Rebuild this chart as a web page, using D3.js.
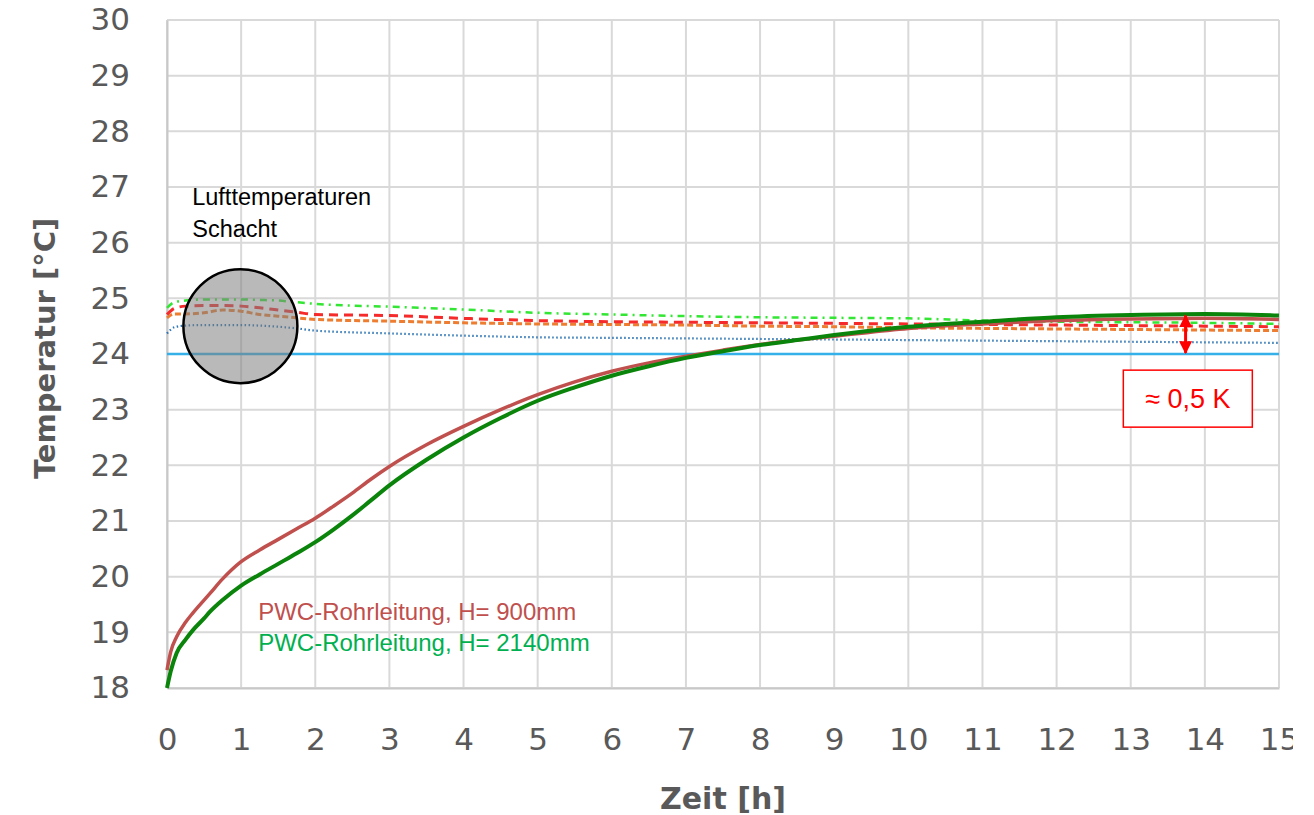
<!DOCTYPE html>
<html>
<head>
<meta charset="utf-8">
<script src="https://cdn.jsdelivr.net/npm/d3@7"></script>
<style>
  body { margin: 0; background: #fff; }
  svg { display: block; }
</style>
</head>
<body>
<div id="chart"></div>
<script>
// Zeitachse der Rohrleitungsmessung [h]
const timePipe = [0, 0.05, 0.13, 0.25, 0.35, 0.5, 0.58, 0.75, 1, 1.25, 1.5, 1.75, 2, 2.25, 2.5, 2.75, 3, 3.5, 4, 4.5, 5, 5.5, 6, 6.5, 7, 7.5, 8, 8.5, 9, 10, 11, 12, 13, 14, 15];
const pwc900 = [18.32, 18.65, 18.92, 19.18, 19.35, 19.58, 19.7, 19.96, 20.27, 20.48, 20.67, 20.86, 21.05, 21.27, 21.5, 21.75, 21.98, 22.37, 22.7, 23.0, 23.27, 23.5, 23.69, 23.84, 23.96, 24.07, 24.17, 24.25, 24.32, 24.46, 24.54, 24.6, 24.63, 24.64, 24.62];
const pwc2140 = [18.0, 18.3, 18.63, 18.87, 19.04, 19.25, 19.37, 19.58, 19.84, 20.04, 20.23, 20.42, 20.62, 20.85, 21.1, 21.37, 21.64, 22.1, 22.5, 22.85, 23.16, 23.4, 23.61, 23.78, 23.93, 24.05, 24.16, 24.25, 24.34, 24.49, 24.58, 24.66, 24.7, 24.72, 24.69];

// Lufttemperaturen Schacht
const timeAir = [0, 0.1, 0.25, 0.5, 0.75, 1, 1.25, 1.5, 1.75, 2, 3, 4, 5, 6, 7, 8, 9, 10, 11, 12, 13, 14, 15];
const airGreen = [24.83, 24.93, 24.96, 24.98, 24.98, 24.98, 24.97, 24.96, 24.93, 24.9, 24.85, 24.8, 24.74, 24.71, 24.68, 24.66, 24.65, 24.64, 24.6, 24.58, 24.57, 24.56, 24.54];
const airRed = [24.71, 24.82, 24.86, 24.87, 24.87, 24.86, 24.83, 24.79, 24.75, 24.71, 24.69, 24.64, 24.6, 24.58, 24.57, 24.56, 24.55, 24.54, 24.53, 24.52, 24.51, 24.5, 24.49];
const airOrange = [24.65, 24.72, 24.72, 24.74, 24.79, 24.77, 24.71, 24.68, 24.65, 24.62, 24.59, 24.56, 24.54, 24.53, 24.52, 24.5, 24.49, 24.47, 24.46, 24.45, 24.44, 24.43, 24.42];
const airBlue = [24.37, 24.48, 24.51, 24.52, 24.52, 24.52, 24.51, 24.49, 24.46, 24.42, 24.37, 24.33, 24.3, 24.29, 24.28, 24.27, 24.26, 24.25, 24.24, 24.23, 24.22, 24.21, 24.2];
const timeRef = [0, 15];
const refLine = [24.0, 24.0];

const xTicks = d3.range(0, 16);
const yTicks = d3.range(18, 31);

const margin = { top: 20, right: 35, bottom: 127, left: 167 },
      width = 1314 - margin.left - margin.right,
      height = 815 - margin.top - margin.bottom;

// Bild ist rechts beschnitten wie im Original
const svg = d3.select("#chart")
  .append("svg")
    .attr("width", 1293)
    .attr("height", 815)
  .append("g")
    .attr("transform", `translate(${margin.left},${margin.top})`);

const x = d3.scaleLinear().domain([0, 15]).range([0, width]);
const y = d3.scaleLinear().domain([18, 30]).range([height, 0]);

const gridColor = "#d9d9d9";
const textColor = "#595959";
const font = "DejaVu Sans, sans-serif";

// Gitter
svg.append("g")
  .selectAll("line")
  .data(yTicks)
  .join("line")
    .attr("x1", 0).attr("x2", x(15))
    .attr("y1", d => y(d)).attr("y2", d => y(d))
    .attr("stroke", gridColor).attr("stroke-width", 2);

svg.append("g")
  .selectAll("line")
  .data(xTicks)
  .join("line")
    .attr("x1", d => x(d)).attr("x2", d => x(d))
    .attr("y1", 0).attr("y2", height)
    .attr("stroke", gridColor).attr("stroke-width", 2);

// Achsen
const xAxis = svg.append("g")
  .attr("transform", `translate(0,${height})`)
  .call(d3.axisBottom(x).tickValues(xTicks).tickSize(0).tickPadding(40));
xAxis.select(".domain").attr("stroke", "#c8c8c8").attr("stroke-width", 2);
xAxis.selectAll("text")
  .attr("fill", textColor)
  .style("font-family", font)
  .style("font-size", "31px");

const yAxis = svg.append("g")
  .call(d3.axisLeft(y).tickValues(yTicks).tickSize(0).tickPadding(37));
yAxis.select(".domain").attr("stroke", "#c8c8c8").attr("stroke-width", 2);
yAxis.selectAll("text")
  .attr("fill", textColor)
  .style("font-family", font)
  .style("font-size", "31px");

// Achsentitel
svg.append("text")
  .attr("x", x(7.5))
  .attr("y", height + 121)
  .attr("text-anchor", "middle")
  .attr("fill", textColor)
  .style("font-family", font)
  .style("font-weight", "bold")
  .style("font-size", "30px")
  .text("Zeit [h]");

svg.append("text")
  .attr("transform", `translate(${-112},${y(24.1)}) rotate(-90)`)
  .attr("text-anchor", "middle")
  .attr("fill", textColor)
  .style("font-family", font)
  .style("font-weight", "bold")
  .style("font-size", "29px")
  .text("Temperatur [°C]");

// Linien
const line = d3.line()
  .x(d => x(d[0]))
  .y(d => y(d[1]))
  .curve(d3.curveMonotoneX);

const series = [
  { t: timeRef, v: refLine, color: "#35b0e8", w: 2.5, dash: null },
  { t: timeAir, v: airBlue, color: "#2e75b6", w: 2.2, dash: "1.5,2.5" },
  { t: timeAir, v: airOrange, color: "#ed7d31", w: 3, dash: "6,3" },
  { t: timeAir, v: airRed, color: "#f52a2a", w: 3, dash: "9,6" },
  { t: timeAir, v: airGreen, color: "#33e633", w: 2.5, dash: "7,5,2,5" },
  { t: timePipe, v: pwc900, color: "#c0504d", w: 3.5, dash: null },
  { t: timePipe, v: pwc2140, color: "#0a840a", w: 4, dash: null }
];

svg.selectAll(".line")
  .data(series)
  .join("path")
    .attr("class", "line")
    .attr("fill", "none")
    .attr("stroke", d => d.color)
    .attr("stroke-width", d => d.w)
    .attr("stroke-dasharray", d => d.dash)
    .attr("d", d => line(d.t.map((t, i) => [t, d.v[i]])));

// Markierung Lufttemperaturen
svg.append("circle")
  .attr("cx", x(0.99))
  .attr("cy", y(24.5))
  .attr("r", 57)
  .attr("fill", "#7f7f7f")
  .attr("fill-opacity", 0.55)
  .attr("stroke", "#000")
  .attr("stroke-width", 2.5);

svg.append("text")
  .attr("x", x(0.34))
  .attr("y", y(26.68))
  .style("font-family", "Liberation Sans, Arial, sans-serif")
  .style("font-size", "23.5px")
  .attr("fill", "#000")
  .selectAll("tspan")
  .data(["Lufttemperaturen", "Schacht"])
  .join("tspan")
    .attr("x", x(0.34))
    .attr("dy", (d, i) => i === 0 ? 0 : 32)
    .text(d => d);

// Legende
const legendItems = [
  { label: "PWC-Rohrleitung, H= 900mm", color: "#c0504d" },
  { label: "PWC-Rohrleitung, H= 2140mm", color: "#00b050" }
];

svg.selectAll(".legend")
  .data(legendItems)
  .join("text")
    .attr("class", "legend")
    .attr("x", x(1.23))
    .attr("y", (d, i) => 600 + i * 31)
    .attr("fill", d => d.color)
    .style("font-family", "Liberation Sans, Arial, sans-serif")
    .style("font-size", "24px")
    .text(d => d.label);

// Differenzpfeil
const defs = svg.append("defs");
defs.append("marker")
  .attr("id", "head")
  .attr("viewBox", "0 0 10 10")
  .attr("refX", 9).attr("refY", 5)
  .attr("markerWidth", 13).attr("markerHeight", 16)
  .attr("markerUnits", "userSpaceOnUse")
  .attr("orient", "auto-start-reverse")
  .append("path")
    .attr("d", "M0,0 L10,5 L0,10 Z")
    .attr("fill", "#ff0000");

svg.append("line")
  .attr("x1", x(13.74)).attr("x2", x(13.74))
  .attr("y1", y(24.69)).attr("y2", y(24.02))
  .attr("stroke", "#ff0000")
  .attr("stroke-width", 3)
  .attr("marker-start", "url(#head)")
  .attr("marker-end", "url(#head)");

const box = svg.append("g");
box.append("rect")
  .attr("x", x(12.9))
  .attr("y", y(23.71))
  .attr("width", 129)
  .attr("height", 57)
  .attr("fill", "#fff")
  .attr("stroke", "#ff0000")
  .attr("stroke-width", 1.5);
box.append("text")
  .attr("x", x(12.9) + 64.5)
  .attr("y", y(23.71) + 38)
  .attr("text-anchor", "middle")
  .attr("fill", "#ff0000")
  .style("font-family", "Liberation Sans, Arial, sans-serif")
  .style("font-size", "27px")
  .text("≈ 0,5 K");
</script>
</body>
</html>
